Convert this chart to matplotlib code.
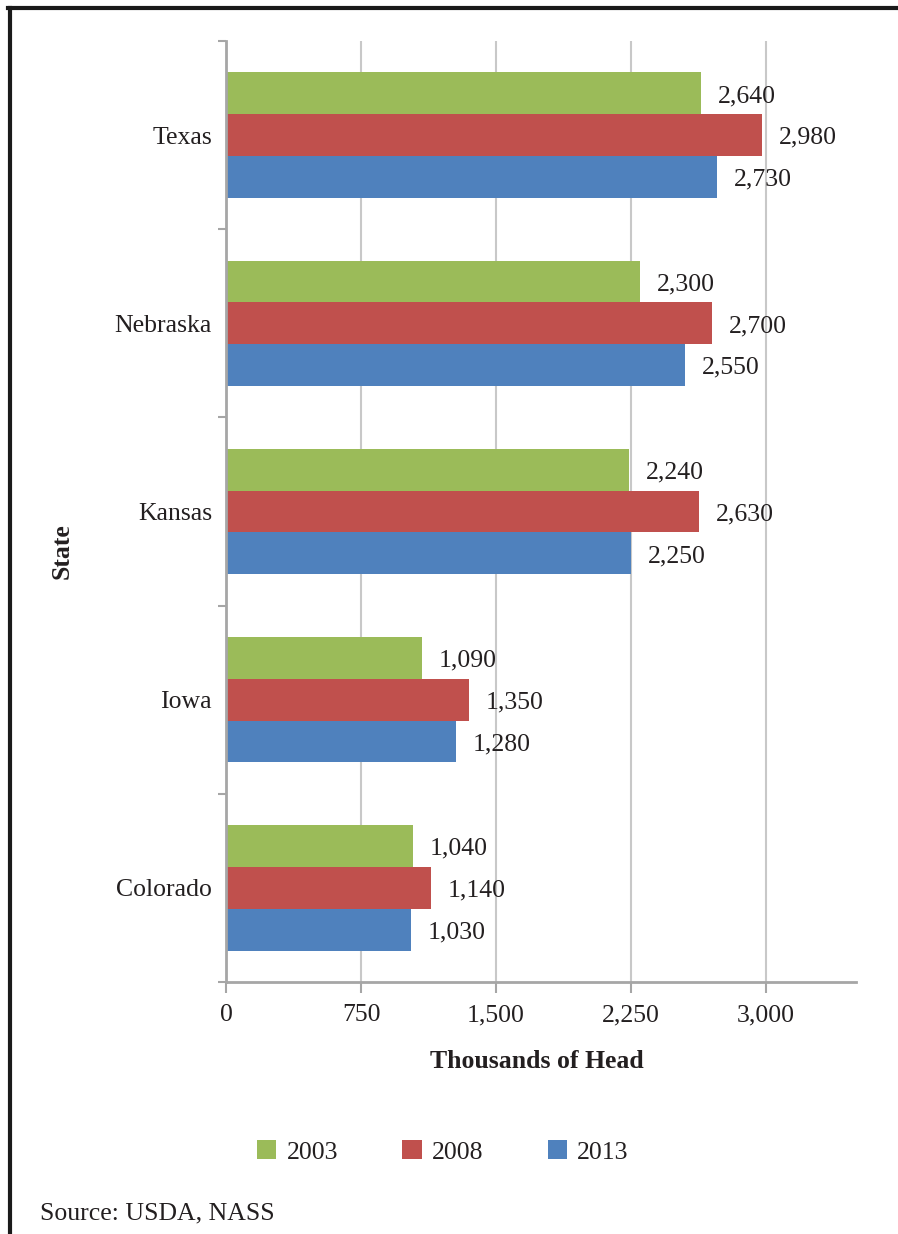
import matplotlib.pyplot as plt
from matplotlib.patches import Patch
from matplotlib.lines import Line2D

# data (thousands of head)
states = ["Colorado", "Iowa", "Kansas", "Nebraska", "Texas"]
years = ["2003", "2008", "2013"]
head2003 = [1040, 1090, 2240, 2300, 2640]
head2008 = [1140, 1350, 2630, 2700, 2980]
head2013 = [1030, 1280, 2250, 2550, 2730]
xticks = [0, 750, 1500, 2250, 3000]

colors = ["#9BBB59", "#C0504D", "#4F81BD"]
plt.rcParams["font.family"] = ["Liberation Serif", "DejaVu Serif"]
fs = 18.5

fig = plt.figure(figsize=(8.98, 12.34), dpi=100)
ax = fig.add_axes([226 / 898, 1 - 982 / 1234, 630 / 898, 941 / 1234])

barH = 0.222
offsets = [barH, 0, -barH]
series = [head2003, head2008, head2013]
for i in range(3):
    ypos = [k + offsets[i] for k in range(len(states))]
    bars = ax.barh(ypos, series[i], height=barH, color=colors[i], zorder=2)
    for b, v in zip(bars, series[i]):
        ax.annotate(f"{v:,}", (v, b.get_y() + barH / 2), xytext=(12, -2),
                    textcoords="offset points", va="center", ha="left",
                    fontsize=fs, color="#231F20", zorder=3)

ax.set_xlim(0, 3500)
ax.set_ylim(-0.5, 4.5)
ax.set_xticks(xticks)
ax.set_xticklabels([f"{t:,}" for t in xticks], fontsize=fs, color="#231F20")
ax.set_yticks(range(len(states)))
ax.set_yticklabels(states, fontsize=fs, color="#231F20")
ax.set_yticks([k - 0.5 for k in range(len(states) + 1)], minor=True)
ax.tick_params(axis="y", which="major", length=0, pad=10)
ax.tick_params(axis="y", which="minor", length=6, width=1.5, color="#A6A6A6")
ax.tick_params(axis="x", length=8, width=1.5, color="#A6A6A6", pad=8)
ax.xaxis.grid(True, color="#C8C8C8", linewidth=1.5, zorder=0)
ax.set_axisbelow(True)
for s in ["top", "right"]:
    ax.spines[s].set_visible(False)
for s in ["left", "bottom"]:
    ax.spines[s].set_color("#A6A6A6")
    ax.spines[s].set_linewidth(2)

fig.text(62 / 898, 1 - 551 / 1234, "State", rotation=90, fontsize=fs,
         fontweight="bold", ha="center", va="center", color="#231F20")
fig.text(537 / 898, 1 - 1062 / 1234, "Thousands of Head", fontsize=fs,
         fontweight="bold", ha="center", va="center", color="#231F20")
fig.text(40 / 898, 1 - 1213 / 1234, "Source: USDA, NASS", fontsize=fs,
         ha="left", va="center", color="#231F20")

handles = [Patch(facecolor=c, edgecolor="none") for c in colors]
leg = fig.legend(handles, years, loc="center", ncol=3,
                 bbox_to_anchor=(443 / 898, 1 - 1152 / 1234), frameon=False,
                 fontsize=fs, handlelength=0.75, handleheight=0.75,
                 handletextpad=0.4, columnspacing=2.5)
for t in leg.get_texts():
    t.set_color("#231F20")

# page border (top and left)
fig.add_artist(Line2D([8 / 898, 1], [1 - 8 / 1234, 1 - 8 / 1234],
                      transform=fig.transFigure, color="#1A1A1A", linewidth=3))
fig.add_artist(Line2D([10 / 898, 10 / 898], [0, 1 - 8 / 1234],
                      transform=fig.transFigure, color="#1A1A1A", linewidth=3))

fig.savefig("out.png", dpi=100)
